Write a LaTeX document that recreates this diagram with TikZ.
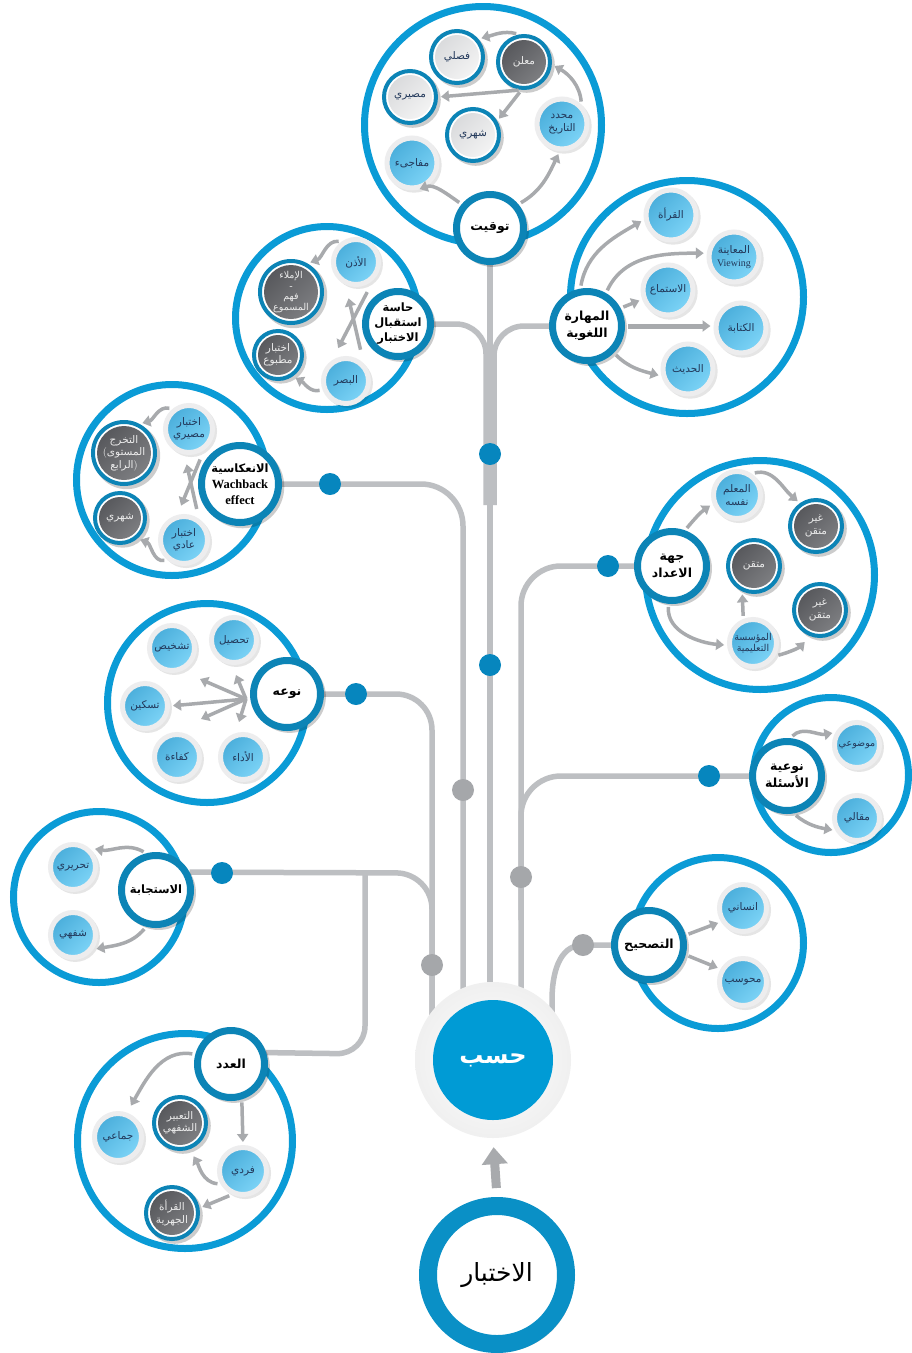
\documentclass[tikz,border=0pt]{standalone}
\usepackage{fontspec}
\newfontfamily\arabicfont[Script=Arabic]{DejaVu Sans}
\newfontfamily\latinserif{Liberation Serif}
\TeXXeTstate=1
\usetikzlibrary{arrows.meta,shadows}
\pgfdeclarelayer{paper}
\pgfdeclarelayer{bg}
\pgfsetlayers{paper,bg,main}
\newcommand\artx[1]{\beginR #1\endR}
\newcommand\subfont{\arabicfont\fontsize{10.5}{12.5}\selectfont}
\newcommand\headfont{\arabicfont\bfseries\fontsize{12.5}{16.5}\selectfont}

\definecolor{ringblue}{HTML}{0A9BD6}
\definecolor{nodering}{HTML}{0C84B6}
\definecolor{trunk}{HTML}{BDBFC2}
\definecolor{arrowgray}{HTML}{A8AAAD}
\definecolor{dotblue}{HTML}{0686BE}
\definecolor{dotgray}{HTML}{A5A7AA}
\definecolor{lbA}{HTML}{4AAEDB}
\definecolor{lbB}{HTML}{7DD4F7}
\definecolor{halo}{HTML}{EDEDEE}
\definecolor{dkA}{HTML}{55565A}
\definecolor{dkB}{HTML}{808184}
\definecolor{ltA}{HTML}{D8D9DB}
\definecolor{ltB}{HTML}{F5F5F5}
\definecolor{subtext}{HTML}{22385A}
\definecolor{hasabblue}{HTML}{009BD5}
\definecolor{ikhring}{HTML}{0A90C6}

\tikzset{
  cluster/.style={circle, draw=ringblue, line width=7pt, minimum size=#1pt, inner sep=0pt},
  softshadow/.style={drop shadow={fill=black, opacity=0.2, shadow xshift=2.5pt, shadow yshift=-2.5pt, shadow scale=1.08}},
  lightshadow/.style={drop shadow={fill=black, opacity=0.1, shadow xshift=2pt, shadow yshift=-2pt, shadow scale=1.1}},
  mainnode/.style={circle, draw=nodering, line width=7pt, fill=white, minimum size=#1pt,
    inner sep=0pt, align=center, text=black, font=\headfont, softshadow},
  bluenode/.style={circle, draw=halo, line width=5pt, top color=lbA, bottom color=lbB,
    shading angle=45, minimum size=#1pt, inner sep=0pt, align=center, text=subtext,
    font=\subfont, lightshadow},
  darknode/.style={circle, draw=nodering, line width=4pt, fill=white, minimum size=#1pt,
    inner sep=0pt, align=center, text=white!92!black, font=\subfont, softshadow,
    path picture={\shade[top color=dkA, bottom color=dkB, shading angle=45]
      (path picture bounding box.center) circle[radius={#1/2*1pt-4pt}];}},
  greynode/.style={circle, draw=nodering, line width=4pt, fill=white, minimum size=#1pt,
    inner sep=0pt, align=center, text=subtext, font=\subfont, softshadow,
    path picture={\shade[top color=ltA, bottom color=ltB, shading angle=45]
      (path picture bounding box.center) circle[radius={#1/2*1pt-4pt}];}},
  arr/.style={draw=arrowgray, line width=3.5pt, -{Triangle[length=8pt,width=11pt]},
    shorten >=3pt, shorten <=3pt},
  bigarr/.style={draw=arrowgray, line width=9pt, -{Triangle[length=17pt,width=25pt]}},
  trunkline/.style={draw=trunk, line width=5.5pt},
  bdot/.style={circle, fill=dotblue, minimum size=22pt, inner sep=0pt},
  gdot/.style={circle, fill=dotgray, minimum size=22pt, inner sep=0pt},
}

\begin{document}
\begin{tikzpicture}[x=1pt,y=1pt]
\begin{pgfonlayer}{paper}
  \fill[white] (0,0) rectangle (912,-1353);
\end{pgfonlayer}
\useasboundingbox (0,0) rectangle (912,-1353);

% ---------- cluster rings ----------
\node[cluster=237] (clTawqit)   at (483,-125)  {};
\node[cluster=233] (clMahara)   at (687,-297)  {};
\node[cluster=183] (clHassa)    at (327,-318)  {};
\node[cluster=191] (clInikas)   at (172,-480)  {};
\node[cluster=229] (clJiha)     at (760,-575)  {};
\node[cluster=199] (clNawuh)    at (207,-703)  {};
\node[cluster=155] (clNawiya)   at (831,-775)  {};
\node[cluster=171] (clIstijaba) at (99,-897)   {};
\node[cluster=171] (clTashih)   at (718,-943)  {};
\node[cluster=215] (clAdad)     at (185,-1141) {};

% ---------- junction dots ----------
\node[bdot] (dotA) at (490,-454) {};
\node[bdot] (dotB) at (490,-665) {};
\node[bdot] (dotC) at (330,-484) {};
\node[bdot] (dotD) at (356,-694) {};
\node[bdot] (dotE) at (222,-873) {};
\node[bdot] (dotF) at (608,-566) {};
\node[bdot] (dotG) at (709,-776) {};
\node[gdot] (dotH) at (463,-790) {};
\node[gdot] (dotI) at (432,-965) {};
\node[gdot] (dotJ) at (521,-877) {};
\node[gdot] (dotK) at (583,-945) {};

% ---------- main category nodes ----------
\node[mainnode=67] (tawqit)   at (490,-228)  {\artx{توقيت}};
\node[mainnode=69] (mahara)   at (587,-326)  {\artx{المهارة}\\\artx{اللغوية}};
\node[mainnode=65, font=\arabicfont\bfseries\fontsize{11.5}{15}\selectfont] (hassa) at (398,-324)
  {\artx{حاسة}\\\artx{استقبال}\\\artx{الاختبار}};
\node[mainnode=77, font=\arabicfont\bfseries\fontsize{11.5}{16}\selectfont] (inikas) at (240,-484)
  {\artx{الانعكاسية}\\{\latinserif\bfseries\fontsize{12.5}{16}\selectfont Wachback}\\{\latinserif\bfseries\fontsize{12.5}{16}\selectfont effect}};
\node[mainnode=69] (jiha)     at (672,-566)  {\artx{جهة}\\\artx{الاعداد}};
\node[mainnode=67] (nawuh)    at (287,-694)  {\artx{نوعه}};
\node[mainnode=69] (nawiya)   at (787,-776)  {\artx{نوعية}\\\artx{الأسئلة}};
\node[mainnode=69, font=\arabicfont\bfseries\fontsize{11.5}{15}\selectfont] (istijaba) at (156,-890) {\artx{الاستجابة}};
\node[mainnode=69] (tashih)   at (649,-945)  {\artx{التصحيح}};
\node[mainnode=67] (adad)     at (231,-1064) {\artx{العدد}};

% ---------- timing ----------
\node[darknode=52] (mulan)    at (524,-62)  {\artx{معلن}};
\node[greynode=52] (fasli)    at (457,-57)  {\artx{فصلي}};
\node[greynode=52] (masiri)   at (410,-97)  {\artx{مصيري}};
\node[greynode=52] (shahri)   at (473,-135) {\artx{شهري}};
\node[bluenode=50] (muhaddad) at (562,-124) {\artx{محدد}\\\artx{التاريخ}};
\node[bluenode=50] (mufaji)   at (412,-163) {\artx{مفاجىء}};

% ---------- language skill ----------
\node[bluenode=50] (qiraa)   at (671,-215) {\artx{القرأة}};
\node[bluenode=50] (muayana) at (734,-257) {\artx{المعاينة}\\{\latinserif\fontsize{10}{11}\selectfont Viewing}};
\node[bluenode=50] (istima)  at (668,-290) {\artx{الاستماع}};
\node[bluenode=50] (kitaba)  at (741,-328) {\artx{الكتابة}};
\node[bluenode=50] (hadith)  at (688,-369) {\artx{الحديث}};

% ---------- receiving sense ----------
\node[bluenode=45] (udhun) at (356,-262) {\artx{الأذن}};
\node[darknode=62, font=\arabicfont\fontsize{9.5}{10.5}\selectfont] (imla) at (291,-292)
  {\artx{الإملاء}\\-\\\artx{فهم}\\\artx{المسموع}};
\node[darknode=48] (matbu) at (278,-355) {\artx{اختبار}\\\artx{مطبوع}};
\node[bluenode=45] (basar) at (346,-381) {\artx{البصر}};

% ---------- washback ----------
\node[bluenode=47] (masiri2) at (189,-429) {\artx{اختبار}\\\artx{مصيري}};
\node[darknode=62] (takharruj) at (124,-453)
  {\artx{التخرج}\\{\normalfont(}\artx{المستوى}\\\artx{الرابع}{\normalfont)}};
\node[darknode=50] (shahri2) at (120,-518) {\artx{شهري}};
\node[bluenode=47] (adi) at (184,-540) {\artx{اختبار}\\\artx{عادي}};

% ---------- preparer ----------
\node[bluenode=47] (muallim)   at (737,-495) {\artx{المعلم}\\\artx{نفسه}};
\node[darknode=52] (ghayr1)    at (816,-526) {\artx{غير}\\\artx{متقن}};
\node[darknode=52] (mutqin)    at (754,-566) {\artx{متقن}};
\node[darknode=52] (ghayr2)    at (820,-610) {\artx{غير}\\\artx{متقن}};
\node[bluenode=47, font=\arabicfont\fontsize{9.5}{11.5}\selectfont] (muassasa) at (753,-643)
  {\artx{المؤسسة}\\\artx{التعليمية}};

% ---------- type ----------
\node[bluenode=45] (tahsil)   at (234,-640) {\artx{تحصيل}};
\node[bluenode=45] (tashkhis) at (172,-648) {\artx{تشخيص}};
\node[bluenode=45] (taskin)   at (145,-706) {\artx{تسكين}};
\node[bluenode=45] (kafaa)    at (177,-757) {\artx{كفاءة}};
\node[bluenode=45] (adaa)     at (243,-757) {\artx{الأداء}};

% ---------- question type ----------
\node[bluenode=45, font=\arabicfont\fontsize{9.5}{11.5}\selectfont] (mawdui) at (857,-745) {\artx{موضوعي}};
\node[bluenode=45] (maqali) at (857,-818) {\artx{مقالي}};

% ---------- response ----------
\node[bluenode=45] (tahriri) at (73,-867) {\artx{تحريري}};
\node[bluenode=45] (shafahi) at (73,-935) {\artx{شفهي}};

% ---------- marking ----------
\node[bluenode=47] (insani)   at (743,-908) {\artx{انساني}};
\node[bluenode=47] (muhawsab) at (743,-982) {\artx{محوسب}};

% ---------- number ----------
\node[bluenode=47] (jamai)     at (118,-1137) {\artx{جماعي}};
\node[darknode=52] (tabir)     at (180,-1123) {\artx{التعبير}\\\artx{الشفهي}};
\node[bluenode=47] (fardi)     at (243,-1171) {\artx{فردي}};
\node[darknode=52] (qiraajahr) at (172,-1213) {\artx{القرأة}\\\artx{الجهرية}};

% ---------- centre ----------
\node[circle, minimum size=156pt, inner sep=0pt, shading=radial, inner color=white,
      outer color=black!6] (hasabhalo) at (493,-1060) {};
\node[circle, fill=hasabblue, minimum size=120pt, inner sep=0pt, text=white,
      font=\arabicfont\bfseries\fontsize{24}{28}\selectfont] (hasab) at (493,-1060) {\artx{حسب}};
\node[circle, draw=ikhring, line width=18pt, fill=white, minimum size=138pt, inner sep=0pt,
      font=\arabicfont\fontsize{25}{29}\selectfont, softshadow] (ikhtibar) at (497,-1275) {\artx{الاختبار}};
\draw[bigarr, shorten <=9pt, shorten >=9pt] (ikhtibar.north) -- (hasabhalo.south);

% ---------- trunk lines ----------
\coordinate (adadjoin) at (365,-873);
\begin{pgfonlayer}{bg}
  \draw[trunkline] (tawqit.south) -- (tawqit.south |- hasab.center);
  \draw[trunkline, rounded corners=30pt] (hassa.east) -- (486,-324) -- (486,-505);
  \draw[trunkline, rounded corners=30pt] (mahara.west) -- (494,-326) -- (494,-505);
  \draw[trunkline, rounded corners=42pt] (inikas.east) -- (463,-484) -- (463,-1010);
  \draw[trunkline, rounded corners=36pt] (nawuh.east) -- (432,-694) -- (432,-1030);
  \draw[trunkline, rounded corners=36pt] (istijaba.28) -- (432,-873) -- (432,-1030);
  \draw[trunkline, rounded corners=28pt] (adadjoin) -- (365,-1054) -- (adad.18);
  \draw[trunkline, rounded corners=40pt] (jiha.west) -- (521,-566) -- (521,-1010);
  \draw[trunkline, rounded corners=40pt] (nawiya.west) -- (521,-776) -- (521,-920);
  \draw[trunkline] (tashih.west) -- (583,-945) to[out=180,in=90] (552,-1000) -- (552,-1030);
\end{pgfonlayer}

% ---------- arrows: timing ----------
\draw[arr] (tawqit.140) to[out=145,in=20] (mufaji.-80);
\draw[arr] (tawqit.40) to[out=30,in=-115] (muhaddad.-95);
\draw[arr] (muhaddad.45) to[out=95,in=-30] (mulan.-5);
\draw[arr] (mulan.100) to[out=165,in=15] (fasli.40);
\draw[arr] (mulan.-95) -- (masiri.east);
\draw[arr] (mulan.-95) -- (shahri.30);

% ---------- arrows: language skill ----------
\draw[arr] (mahara.100) to[out=80,in=-150] (qiraa.190);
\draw[arr] (mahara.60) to[out=65,in=180] (muayana.172);
\draw[arr] (mahara.28) -- (istima.200);
\draw[arr, line width=5pt] (mahara.east) -- (mahara.east -| kitaba.west);
\draw[arr] (mahara.-45) to[out=-45,in=165] (hadith.195);

% ---------- arrows: receiving sense ----------
\draw[arr] (udhun.125) to[out=175,in=20] (imla.60);
\draw[arr] (basar.200) to[out=195,in=-30] (matbu.-55);
\draw[arr, shorten <=14pt, shorten >=14pt] (basar.45) -- (udhun.-115);
\draw[arr, shorten <=14pt, shorten >=14pt] (udhun.-45) -- (basar.125);

% ---------- arrows: washback ----------
\draw[arr] (masiri2.130) to[out=165,in=15] (takharruj.62);
\draw[arr] (adi.230) to[out=190,in=-20] (shahri2.-50);
\draw[arr, shorten <=10pt, shorten >=10pt] (adi.55) -- (masiri2.-100);
\draw[arr, shorten <=10pt, shorten >=10pt] (masiri2.-55) -- (adi.105);

% ---------- arrows: preparer ----------
\draw[arr] (jiha.70) to[out=50,in=-145] (muallim.200);
\draw[arr] (muallim.55) to[out=15,in=140] (ghayr1.125);
\draw[arr] (jiha.-95) to[out=-95,in=175] (muassasa.185);
\draw[arr] (muassasa.112) -- (mutqin.-115);
\draw[arr, shorten >=8pt] (muassasa.-30) to[out=15,in=-135] (ghayr2.-110);

% ---------- arrows: type ----------
\coordinate (hub)  at (246,-699);
\coordinate (tipA) at (200,-679);
\coordinate (tipB) at (236,-675);
\coordinate (tipC) at (201,-719);
\coordinate (tipD) at (239,-722);
\draw[arr, shorten <=0pt] (hub) -- (taskin.east);
\draw[arr, shorten <=0pt, shorten >=0pt] (hub) -- (tipA);
\draw[arr, shorten <=0pt, shorten >=0pt] (hub) -- (tipB);
\draw[arr, shorten <=0pt, shorten >=0pt] (hub) -- (tipC);
\draw[arr, shorten <=0pt, shorten >=0pt] (hub) -- (tipD);

% ---------- arrows: question type ----------
\draw[arr] (nawiya.85) to[out=45,in=190] (mawdui.150);
\draw[arr] (nawiya.-80) to[out=-40,in=170] (maqali.-150);

% ---------- arrows: response ----------
\draw[arr, shorten >=6pt] (istijaba.105) to[out=150,in=-10] (tahriri.50);
\draw[arr] (istijaba.-105) to[out=-130,in=10] (shafahi.-35);

% ---------- arrows: marking ----------
\draw[arr] (tashih.15) -- (insani.212);
\draw[arr] (tashih.-15) -- (muhawsab.150);

% ---------- arrows: number ----------
\draw[arr, shorten >=8pt] (adad.165) to[out=170,in=60] (jamai.70);
\draw[arr] (adad.-73) -- (fardi.90);
\draw[arr, shorten >=8pt] (fardi.210) to[out=175,in=-60] (tabir.-70);
\draw[arr] (fardi.-115) -- (qiraajahr.10);
\end{tikzpicture}
\end{document}
